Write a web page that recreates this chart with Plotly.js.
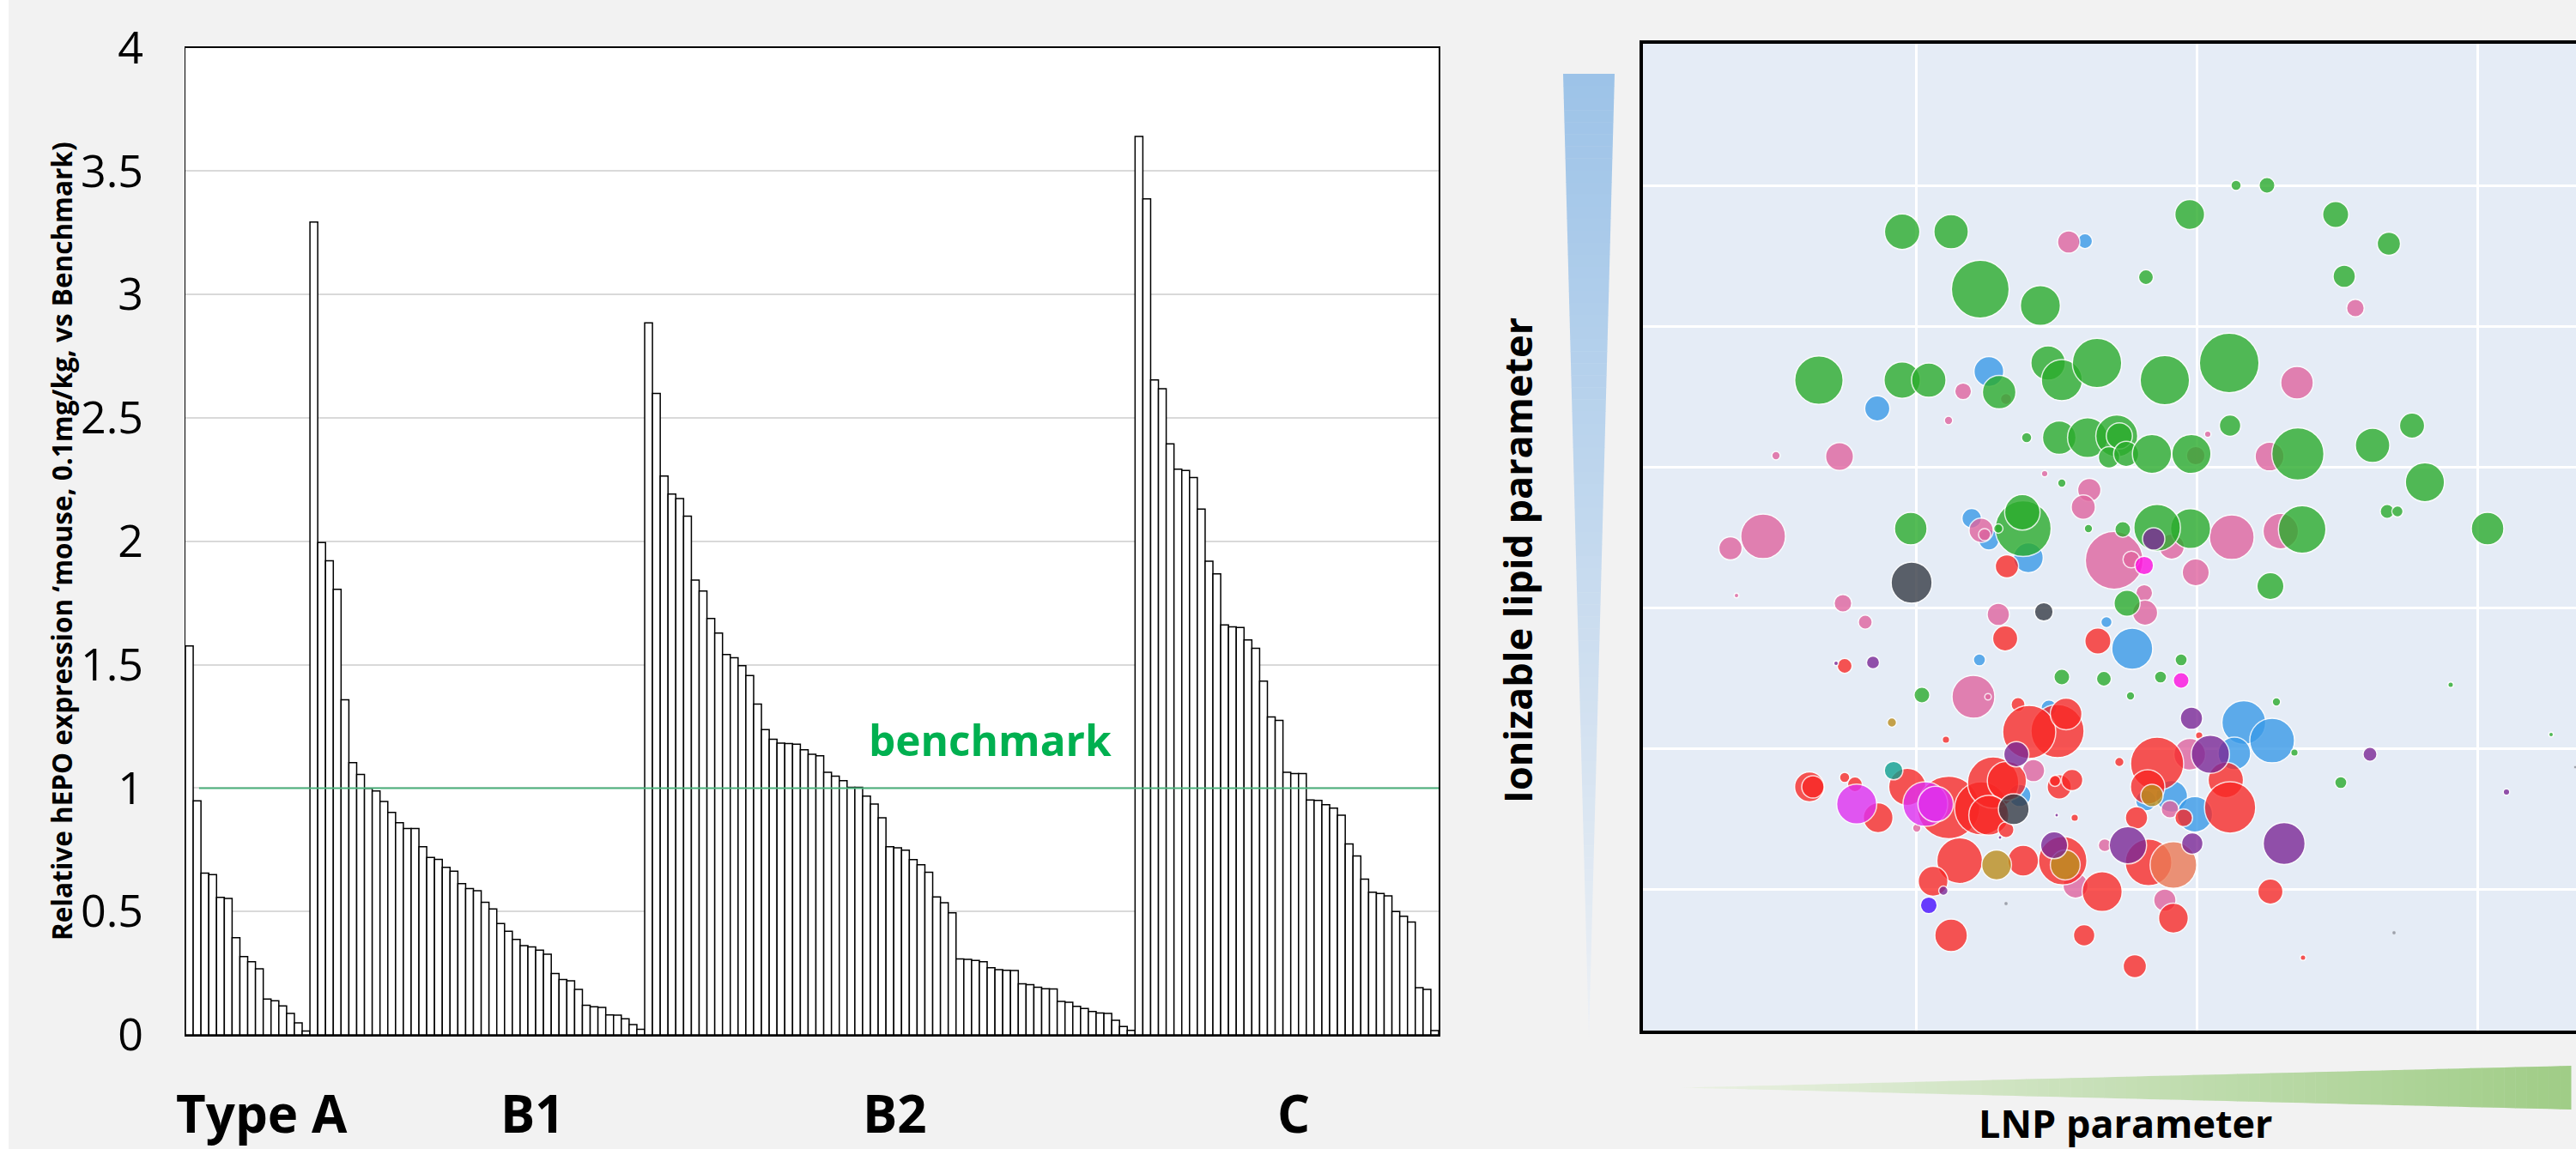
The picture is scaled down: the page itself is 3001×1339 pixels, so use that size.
<!DOCTYPE html>
<html>
<head>
<meta charset="utf-8">
<script src="https://cdn.plot.ly/plotly-3.0.1.min.js"></script>
<style>html,body{margin:0;padding:0;background:#f2f2f2}#chart{width:3001px;height:1339px}</style>
</head>
<body>
<div id="chart"></div>
<script>
// ---- Left chart: relative hEPO expression, sorted within each type ----
var typeA = [1.576,0.948,0.655,0.649,0.557,0.553,0.394,0.317,0.296,0.268,0.145,0.138,0.117,0.087,0.049,0.016];
var typeB1 = [3.293,1.995,1.921,1.805,1.358,1.103,1.055,0.999,0.988,0.946,0.901,0.860,0.836,0.836,0.762,0.719,0.711,0.679,0.663,0.613,0.593,0.584,0.537,0.510,0.451,0.420,0.387,0.362,0.356,0.343,0.327,0.249,0.224,0.219,0.184,0.120,0.114,0.111,0.081,0.080,0.065,0.042,0.023];
var typeB2 = [2.885,2.599,2.264,2.191,2.173,2.102,1.843,1.798,1.687,1.628,1.541,1.528,1.496,1.456,1.340,1.237,1.198,1.182,1.180,1.178,1.155,1.137,1.131,1.064,1.048,1.030,1.003,1.003,0.967,0.935,0.880,0.762,0.758,0.748,0.710,0.689,0.659,0.559,0.535,0.495,0.308,0.306,0.302,0.296,0.272,0.264,0.262,0.261,0.207,0.203,0.193,0.187,0.186,0.136,0.132,0.116,0.107,0.095,0.089,0.087,0.059,0.034,0.018];
var typeC = [3.640,3.387,2.654,2.618,2.395,2.292,2.287,2.258,2.130,1.919,1.868,1.661,1.653,1.651,1.600,1.566,1.433,1.288,1.274,1.064,1.059,1.059,0.952,0.950,0.933,0.919,0.890,0.774,0.725,0.631,0.578,0.573,0.563,0.500,0.481,0.457,0.191,0.184,0.017];
var groupLabels = ["Type A","B1","B2","C"];
var yTickVals = [0,0.5,1,1.5,2,2.5,3,3.5,4];
var yTickText = ["0","0.5","1","1.5","2","2.5","3","3.5","4"];
var benchmarkValue = 1;

// ---- Right chart: bubbles per colour group (LNP parameter, lipid parameter, size) ----
var blueX=[515,403,273,383,403,449,392,540,570,700,733,689,616,643,586,473,439];
var blueY=[922,770,727,599,574,553,434,478,447,361,340,325,275,254,270,378,276];
var blueS=[16,32,27,21,22,32,13,12,44,47,48,35,34,38,22,17,24];

var pinkX=[496,373,356,155,229,468,520,513,140,102,394,398,109,233,549,569,830,762,658,730,686,743,644,616,584,585,637,538,614,608,259,414,385,402,455,504,319,644,423];
var pinkY=[921,747,713,672,671,651,632,612,578,564,585,580,509,500,550,551,844,757,697,671,577,584,536,566,512,489,324,218,260,154,478,487,391,391,305,171,238,672,738];
var pinkS=[24,18,9,9,30,7,25,26,48,25,26,13,5,19,62,18,19,35,7,31,48,38,29,27,18,27,34,14,19,24,15,24,46,7,24,27,9,20,12];

var greenX=[302,359,393,463,205,302,333,415,472,488,529,447,485,518,552,555,543,563,488,312,443,442,414,519,559,586,691,727,637,807,869,817,683,608,684,593,639,763,850,896,911,867,879,984,768,638,599,731,564,627,537,603,568,738,759,813,941,1058,325,488];
var greenY=[933,933,866,847,760,760,760,746,780,760,780,693,693,693,695,695,670,674,640,587,587,606,587,587,586,880,987,987,953,953,919,881,780,760,707,674,674,674,684,707,641,607,607,587,586,587,588,520,500,434,412,414,392,385,326,291,405,347,393,414];
var greenS=[38,37,62,43,52,39,37,36,37,44,53,11,36,43,45,28,23,27,9,35,60,38,10,9,17,16,11,17,32,28,25,24,64,53,23,42,42,56,37,27,42,15,12,35,51,43,50,29,28,13,16,13,9,9,8,13,6,5,17,17];

var redX=[424,422,530,235,437,483,450,493,353,194,198,235,247,274,308,356,394,408,424,403,485,500,480,503,423,555,369,443,489,338,535,359,514,573,599,588,648,679,684,575,630,589,731,618,769];
var redY=[543,459,456,427,382,351,350,371,341,286,286,297,289,250,286,262,261,291,293,253,286,294,293,250,236,315,200,200,200,176,164,113,113,77,313,286,346,294,262,250,250,198,164,133,87];
var redS=[25,27,28,16,15,57,57,34,8,32,24,11,16,32,40,67,57,55,42,43,26,23,12,8,17,10,49,33,52,32,43,35,23,25,57,37,8,38,55,24,19,50,27,32,6];

var ochreX=[290,412,492,593];
var ochreY=[361,195,195,276];
var ochreS=[10,32,32,24];

var salmonX=[618];
var salmonY=[195];
var salmonS=[50];

var tealX=[292];
var tealY=[305];
var tealS=[20];

var purpleX=[268,225,435,350,479,565,416,482,639,661,847,640,747,1006,595];
var purpleY=[431,430,324,165,218,218,227,253,366,324,324,220,220,280,575];
var purpleS=[14,5,27,10,29,40,4,4,24,41,15,23,45,7,24];

var darkX=[313,467,432];
var darkY=[524,490,260];
var darkS=[44,20,33];

var orchidX=[249,329,341];
var orchidY=[266,266,266];
var orchidS=[43,48,38];

var magentaX=[584,627];
var magentaY=[544,410];
var magentaS=[20,17];

var indigoX=[333];
var indigoY=[148];
var indigoS=[18];

var tinyX=[423,875,1086];
var tinyY=[150,116,309];
var tinyS=[4,4,3];

// ---- Build ----
var W=3001,H=1339;
var L={x0:216,x1:1676,y0:55.5,y1:1206};
var R={x0:1914,x1:3001,y0:51,y1:1201};
var nBars=typeA.length+typeB1.length+typeB2.length+typeC.length;
var traces=[];
var offset=0;
var groups=[typeA,typeB1,typeB2,typeC];
groups.forEach(function(vals){
  traces.push({type:'bar',x:vals.map(function(_,i){return offset+i+0.5;}),y:vals,width:1,
    marker:{color:'#ffffff',line:{color:'#000000',width:1.5}},showlegend:false,hoverinfo:'y',xaxis:'x',yaxis:'y'});
  offset+=vals.length;
});
traces.push({type:'scatter',mode:'lines',x:[1.75,164.2],y:[benchmarkValue,benchmarkValue],cliponaxis:false,
  line:{color:'#4cb27c',width:2},showlegend:false,hoverinfo:'skip',xaxis:'x',yaxis:'y'});

function bubbles(name,xs,ys,ss,color,op,lw){
  traces.push({type:'scatter',mode:'markers',name:name,x:xs,y:ys,
    marker:{size:ss,sizemode:'diameter',sizeref:0.92,color:color,opacity:op===undefined?0.8:op,line:{color:'#ffffff',width:lw===undefined?1.5:lw}},
    showlegend:false,hoverinfo:'x+y',xaxis:'x2',yaxis:'y2'});
}
bubbles('blue',blueX,blueY,blueS,'#3a9ae8');
bubbles('pink',pinkX,pinkY,pinkS,'#e0659f');
bubbles('green',greenX,greenY,greenS,'#2bac2d');
bubbles('red',redX,redY,redS,'#f92725',0.78);
bubbles('ochre',ochreX,ochreY,ochreS,'#bb8e1e');
bubbles('salmon',salmonX,salmonY,salmonS,'#ec7a55');
bubbles('teal',tealX,tealY,tealS,'#10a090');
bubbles('purple',purpleX,purpleY,purpleS,'#7c2997');
bubbles('dark',darkX,darkY,darkS,'#373c46');
bubbles('orchid',orchidX,orchidY,orchidS,'#e030f0');
bubbles('magenta',magentaX,magentaY,magentaS,'#ff10e0');
bubbles('indigo',indigoX,indigoY,indigoS,'#4810ff');
bubbles('tiny',tinyX,tinyY,tinyS,'#8a8f9a',0.8,0.5);

// gradient wedges drawn as thin slices
function mix(a,b,t){return 'rgb('+[0,1,2].map(function(i){return Math.round(a[i]+(b[i]-a[i])*t);}).join(',')+')';}
var shapes=[{type:'rect',xref:'paper',yref:'paper',x0:0,x1:10/W,y0:0,y1:1,fillcolor:'#ffffff',line:{width:0},layer:'below'}];
var slices=80,i;
for(i=0;i<slices;i++){
  var t0=i/slices,t1=(i+1)/slices;
  var yt=86+(1210-86)*t0,yb=86+(1210-86)*(t1)+0.5;
  var hw0=30*(1-t0),hw1=30*(1-t1);
  shapes.push({type:'path',xref:'paper',yref:'paper',layer:'below',line:{width:0},
    fillcolor:mix([157,195,232],[238,241,245],t0),
    path:'M'+[(1851-hw0)/W,1-yt/H].join(' ')+'L'+[(1851+hw0)/W,1-yt/H].join(' ')+'L'+[(1851+hw1)/W,1-yb/H].join(' ')+'L'+[(1851-hw1)/W,1-yb/H].join(' ')+'Z'});
  var xl=1959+(2995-1959)*t0,xr=1959+(2995-1959)*t1+0.5;
  var hh0=25.5*t0,hh1=25.5*t1;
  shapes.push({type:'path',xref:'paper',yref:'paper',layer:'below',line:{width:0},
    fillcolor:mix([235,241,228],[160,205,135],t1),
    path:'M'+[xl/W,1-(1267.5-hh0)/H].join(' ')+'L'+[xr/W,1-(1267.5-hh1)/H].join(' ')+'L'+[xr/W,1-(1267.5+hh1)/H].join(' ')+'L'+[xl/W,1-(1267.5+hh0)/H].join(' ')+'Z'});
}

var FONT='"Open Sans", sans-serif';
var groupX=[305,620,1042,1507];
var annotations=groupLabels.map(function(t,i){
  return {text:'<b>'+t+'</b>',xref:'paper',yref:'paper',x:groupX[i]/W,y:1-1297/H,xanchor:'center',yanchor:'middle',showarrow:false,font:{family:FONT,size:60,color:'#000000'}};
});
annotations.push({text:'<b>benchmark</b>',xref:'paper',yref:'paper',x:1153/W,y:1-862/H,xanchor:'center',yanchor:'middle',showarrow:false,font:{family:FONT,size:49.5,color:'#00b050'}});
annotations.push({text:'<b>Ionizable lipid parameter</b>',xref:'paper',yref:'paper',x:1767/W,y:1-653/H,xanchor:'center',yanchor:'middle',textangle:-90,showarrow:false,font:{family:FONT,size:45,color:'#000000'}});
annotations.push({text:'<b>LNP parameter</b>',xref:'paper',yref:'paper',x:2476/W,y:1-1308/H,xanchor:'center',yanchor:'middle',showarrow:false,font:{family:FONT,size:45,color:'#000000'}});

var layout={
  width:W,height:H,margin:{l:0,r:0,t:0,b:0},paper_bgcolor:'#f2f2f2',plot_bgcolor:'#ffffff',
  bargap:0,barmode:'overlay',showlegend:false,font:{family:FONT,color:'#000000'},
  xaxis:{domain:[L.x0/W,L.x1/W],range:[0,nBars],showgrid:false,zeroline:false,showticklabels:false,ticks:'',showline:true,linecolor:'#000000',linewidth:1.5,mirror:true,anchor:'y'},
  yaxis:{domain:[1-L.y1/H,1-L.y0/H],range:[0,4],tickvals:yTickVals,ticktext:yTickText,tickfont:{family:FONT,size:52,color:'#000000'},
    ticks:'',ticklabelstandoff:37,showgrid:true,gridcolor:'#d9d9d9',gridwidth:2,zeroline:false,showline:true,linecolor:'#000000',linewidth:1.5,mirror:true,anchor:'x',
    title:{text:'<b>Relative hEPO expression ‘mouse, 0.1mg/kg, vs Benchmark)</b>',font:{family:FONT,size:31.5,color:'#000000'},standoff:0}},
  xaxis2:{domain:[R.x0/W,R.x1/W],range:[0,R.x1-R.x0],tick0:318,dtick:327,showticklabels:false,ticks:'',showgrid:true,gridcolor:'#ffffff',gridwidth:3,zeroline:false,showline:true,linecolor:'#000000',linewidth:4,mirror:true,anchor:'y2'},
  yaxis2:{domain:[1-R.y1/H,1-R.y0/H],range:[2,1152],tick0:167,dtick:164,showticklabels:false,ticks:'',showgrid:true,gridcolor:'#ffffff',gridwidth:3,zeroline:false,showline:true,linecolor:'#000000',linewidth:4,anchor:'x2'},
  shapes:shapes,annotations:annotations
};
// right plot background
layout.shapes.push({type:'rect',xref:'x2 domain',yref:'y2 domain',x0:0,x1:1,y0:0,y1:1,fillcolor:'#e5ecf6',line:{width:0},layer:'below'});
Plotly.newPlot('chart',traces,layout,{displayModeBar:false,staticPlot:true});
</script>
</body>
</html>
